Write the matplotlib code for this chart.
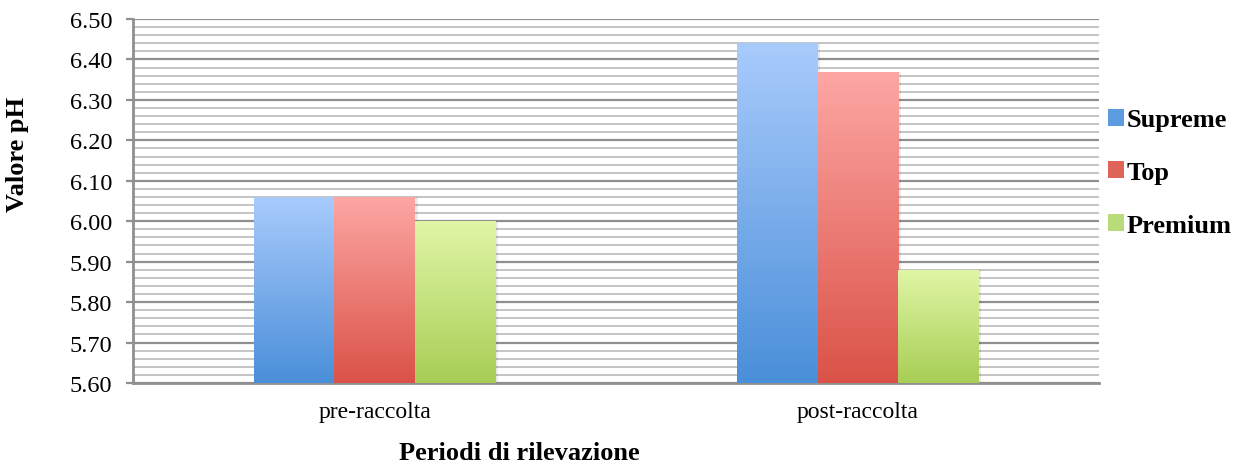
import numpy as np
import matplotlib
matplotlib.use("Agg")
import matplotlib.pyplot as plt
from matplotlib.colors import LinearSegmentedColormap
from matplotlib.patches import Patch
from matplotlib.ticker import MultipleLocator, FormatStrFormatter

periods = ["pre-raccolta", "post-raccolta"]
series = ["Supreme", "Top", "Premium"]
supreme = [6.06, 6.44]
top = [6.06, 6.37]
premium = [6.00, 5.88]
values = [supreme, top, premium]

# (top colour, bottom colour) for each series gradient
gradients = [("#a9cbfc", "#4a8fd9"), ("#fda7a4", "#da5247"), ("#e0f6a6", "#a8ce55")]
legend_colors = ["#5b9be0", "#e0635a", "#b9dc78"]

plt.rcParams["font.family"] = ["Liberation Serif", "DejaVu Serif"]

fig = plt.figure(figsize=(12.35, 4.64), dpi=100)
ax = fig.add_axes([0.1077, 0.1724, 0.7823, 0.7845])

ymin, ymax = 5.60, 6.50
ax.set_ylim(ymin, ymax)
ax.set_xlim(-0.5, 1.5)

ax.yaxis.set_major_locator(MultipleLocator(0.10))
ax.yaxis.set_minor_locator(MultipleLocator(0.02))
ax.yaxis.set_major_formatter(FormatStrFormatter("%.2f"))
ax.grid(axis="y", which="major", color="#8f8f8f", linewidth=1.6, zorder=0)
ax.grid(axis="y", which="minor", color="#c4c4c4", linewidth=1.4, zorder=0)
ax.set_axisbelow(True)

width = 0.166
x = np.arange(len(periods))
grad = np.linspace(0, 1, 256).reshape(-1, 1)
for i, (name, vals, (c_top, c_bot)) in enumerate(zip(series, values, gradients)):
    pos = x + (i - 1) * width
    bars = ax.bar(pos, np.array(vals) - ymin, width, bottom=ymin,
                  color="none", edgecolor="none", zorder=3)
    cmap = LinearSegmentedColormap.from_list(name, [c_bot, c_top])
    for b in bars:
        x0, y0 = b.get_x(), b.get_y()
        w, h = b.get_width(), b.get_height()
        # soft drop shadow
        ax.bar(x0 + w / 2 + 0.006, h, w, bottom=y0, color="#000000",
               alpha=0.08, edgecolor="none", zorder=2)
        im = ax.imshow(grad, cmap=cmap, aspect="auto", origin="lower",
                       extent=[x0, x0 + w, y0, y0 + h], zorder=3)
        im.set_clip_path(b)

ax.set_xticks(x)
ax.set_xticklabels(periods, fontsize=17)
ax.tick_params(axis="x", length=0, pad=13)
ax.tick_params(axis="y", which="major", length=5, width=1.6, color="#8f8f8f",
               labelsize=17.5, pad=10)
ax.tick_params(axis="y", which="minor", length=0)

for s in ["top", "right"]:
    ax.spines[s].set_visible(False)
for s in ["left", "bottom"]:
    ax.spines[s].set_color("#8f8f8f")
    ax.spines[s].set_linewidth(2)

ax.set_ylabel("Valore pH", fontsize=19, fontweight="bold")
ax.yaxis.set_label_coords(-0.108, 0.63)
ax.set_xlabel("Periodi di rilevazione", fontsize=19, fontweight="bold")
ax.xaxis.set_label_coords(0.40, -0.158)

handles = [Patch(facecolor=c, edgecolor="none") for c in legend_colors]
leg = fig.legend(handles, series, loc="center left", bbox_to_anchor=(0.897, 0.626),
                 frameon=False, prop={"weight": "bold", "size": 19},
                 handlelength=0.6, handleheight=0.6, handletextpad=0.12,
                 labelspacing=1.12, borderpad=0, borderaxespad=0)

ax.set_xlim(-0.5, 1.5)
ax.set_ylim(ymin, ymax)
fig.savefig("out.png", dpi=100)
